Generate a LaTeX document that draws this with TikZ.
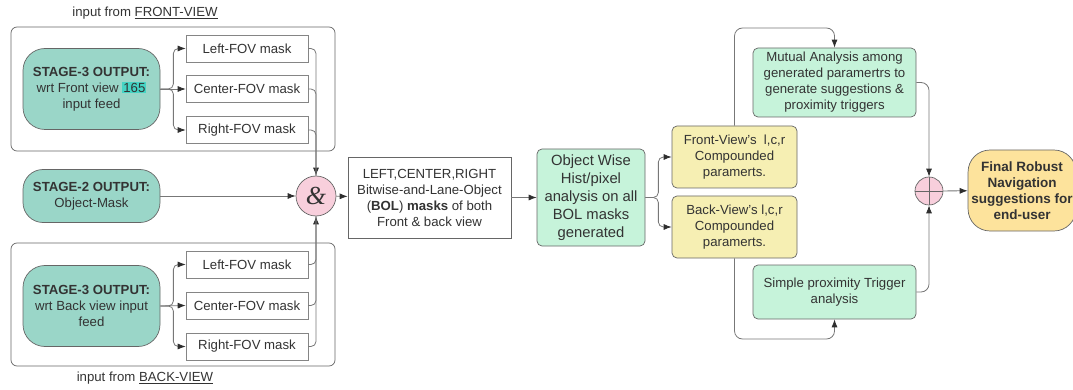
\documentclass[tikz,border=0pt]{standalone}
\usepackage{fontspec}
\setmainfont{Liberation Sans}
\newfontfamily\ampfont{Liberation Serif}
\usetikzlibrary{arrows.meta, positioning, calc}

\definecolor{tealfill}{HTML}{9AD6C8}
\definecolor{mintfill}{HTML}{C6F3DA}
\definecolor{paramfill}{HTML}{F6EFB3}
\definecolor{finalfill}{HTML}{FDE39C}
\definecolor{pinkfill}{HTML}{F8CFDC}
\definecolor{hlcyan}{HTML}{45D4C4}
\definecolor{linegray}{HTML}{666666}
\definecolor{wiregray}{HTML}{777777}
\definecolor{tipgray}{HTML}{2E2E2E}
\definecolor{txtgray}{HTML}{333333}
\newcommand{\hlnum}[1]{{\setlength{\fboxsep}{1pt}\colorbox{hlcyan}{#1}}}

\begin{document}
\begin{tikzpicture}[x=1pt, y=-1pt,
  every node/.style={font=\fontsize{13.2}{16}\selectfont, text=txtgray},
  frame/.style={draw=linegray, rounded corners=6pt, line width=0.7pt},
  stagebox/.style={draw=linegray, fill=tealfill, rounded corners=22pt,
                   minimum width=137pt, minimum height=81pt, align=center, line width=0.7pt},
  maskbox/.style={draw=linegray!80, fill=white, minimum width=122pt,
                  minimum height=27pt, line width=0.6pt},
  bolbox/.style={draw=linegray, fill=white, minimum width=163pt,
                 minimum height=81pt, align=center, line width=0.7pt},
  histbox/.style={draw=linegray, fill=mintfill, rounded corners=5pt, minimum width=108pt,
                  minimum height=97pt, align=center, line width=0.7pt,
                  font=\fontsize{14.8}{18}\selectfont},
  parambox/.style={draw=linegray, fill=paramfill, rounded corners=5pt, minimum width=125pt,
                   minimum height=62pt, align=center, line width=0.7pt},
  analysisbox/.style={draw=linegray, fill=mintfill, rounded corners=5pt, minimum width=163pt,
                      align=center, line width=0.7pt},
  finalbox/.style={draw=linegray, fill=finalfill, rounded corners=22pt, minimum width=106pt,
                   minimum height=81pt, align=center, line width=0.7pt,
                   font=\fontsize{13.5}{16}\selectfont\bfseries},
  joint/.style={circle, draw=linegray, fill=pinkfill, line width=0.7pt, inner sep=0pt},
  caption/.style={font=\fontsize{13.2}{16}\selectfont},
  wire/.style={draw=wiregray, line width=0.8pt, rounded corners=5pt},
  arrow/.style={wire, -{Latex[length=8pt, width=6pt, color=tipgray]}}
]
\useasboundingbox (0,0) rectangle (1073,390);

%% input frames
\draw[frame] (11,27) rectangle (335,151);
\draw[frame] (11,243) rectangle (335,366);
\node[caption] (fronttitle) at (145,13) {input from \underline{FRONT-VIEW}};
\node[caption] (backtitle)  at (145,378) {input from \underline{BACK-VIEW}};

%% stage outputs
\node[stagebox] (s3front) at (91.5,89)  {\textbf{STAGE-3 OUTPUT:}\\wrt Front view \hlnum{165}\\input feed};
\node[stagebox, minimum height=53pt, rounded corners=20pt] (s2) at (91.5,196) {\textbf{STAGE-2 OUTPUT:}\\Object-Mask};
\node[stagebox] (s3back)  at (91.5,306) {\textbf{STAGE-3 OUTPUT:}\\wrt Back view input\\feed};

%% fov masks
\node[maskbox] (lfront) at (247,48.5)  {Left-FOV mask};
\node[maskbox] (cfront) at (247,89)    {Center-FOV mask};
\node[maskbox] (rfront) at (247,130)   {Right-FOV mask};
\node[maskbox] (lback)  at (247,264.5) {Left-FOV mask};
\node[maskbox] (cback)  at (247,305.5) {Center-FOV mask};
\node[maskbox] (rback)  at (247,346.5) {Right-FOV mask};

%% combining
\node[joint, minimum size=40pt] (amp) at (316,196) {\ampfont\itshape\fontsize{26}{26}\selectfont\&};
\node[bolbox] (bol) at (429.5,197.5) {LEFT,CENTER,RIGHT\\Bitwise-and-Lane-Object\\(\textbf{BOL}) \textbf{masks} of both\\Front \& back view};
\node[histbox] (hist) at (591,197.5) {Object Wise\\Hist/pixel\\analysis on all\\BOL masks\\generated};
\node[parambox] (fparam) at (734.5,157) {Front-View's\ \ l,c,r\\Compounded\\paramerts.};
\node[parambox] (bparam) at (734.5,227) {Back-View's l,c,r\\Compounded\\paramerts.};
\node[analysisbox, minimum height=69pt] (mutual) at (834.5,82.5) {Mutual Analysis among\\generated paramertrs to\\generate suggestions \&\\proximity triggers};
\node[analysisbox, minimum height=54pt] (simple) at (834.5,292) {Simple proximity Trigger\\analysis};
\node[joint, minimum size=28pt] (plus) at (929,191) {};
\node[finalbox] (final) at (1022,190.5) {Final Robust\\Navigation\\suggestions for\\end-user};
\coordinate (topbend) at (834.5,28);
\coordinate (botbend) at (834.5,339);

%% front fork
\draw[arrow] (s3front.east) -- ++(13,0) |- (lfront.west);
\draw[arrow] (s3front.east) -- (cfront.west);
\draw[arrow] (s3front.east) -- ++(13,0) |- (rfront.west);
%% back fork
\draw[arrow] (s3back.east) -- ++(13,0) |- (lback.west);
\draw[arrow] (s3back.east) -- (cback.west);
\draw[arrow] (s3back.east) -- ++(13,0) |- (rback.west);

%% masks into the joint
\draw[arrow] (lfront.east) -| (amp.north);
\draw[wire] (cfront.east) -| (amp.north);
\draw[wire] (rfront.east) -| (amp.north);
\draw[arrow] (rback.east) -| (amp.south);
\draw[wire] (cback.east) -| (amp.south);
\draw[wire] (lback.east) -| (amp.south);
\draw[arrow] (s2) -- (amp);

%% main flow
\draw[arrow] (amp) -- (bol);
\draw[arrow] (bol) -- (hist);
\draw[arrow] (hist.east) -- ++(13,0) |- (fparam.west);
\draw[arrow] (hist.east) -- ++(13,0) |- (bparam.west);
\draw[arrow, rounded corners=8pt] (fparam.north) |- (topbend) -- (mutual.north);
\draw[arrow, rounded corners=8pt] (bparam.south) |- (botbend) -- (simple.south);
\draw[arrow, rounded corners=8pt] (mutual.east) -| (plus.north);
\draw[arrow, rounded corners=8pt] (simple.east) -| (plus.south);
\draw[draw=linegray, line width=0.7pt] (plus.north) -- (plus.south) (plus.west) -- (plus.east);
\draw[arrow] (plus) -- (final);

\end{tikzpicture}
\end{document}
